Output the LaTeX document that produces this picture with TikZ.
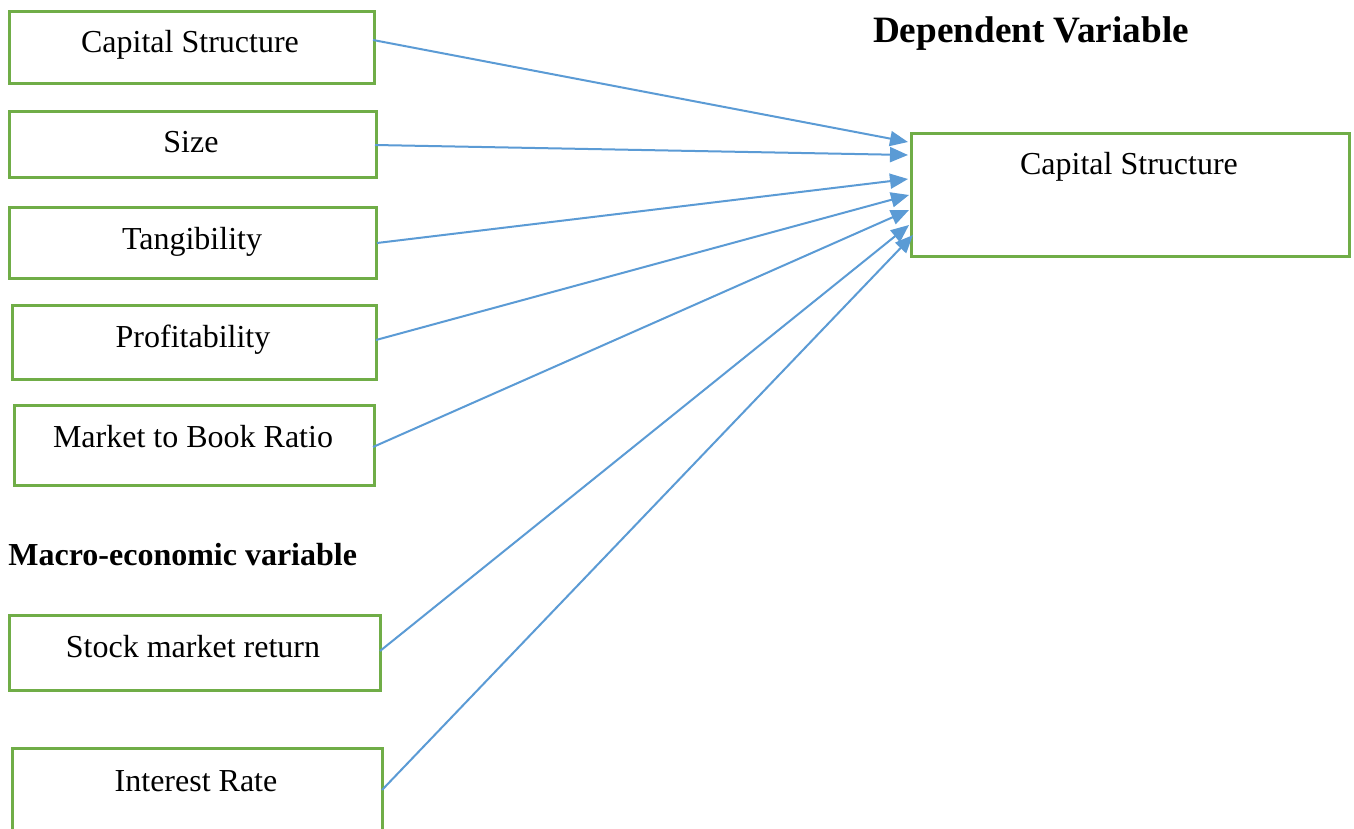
\documentclass[tikz,border=0pt]{standalone}
\usepackage{fontspec}
\setmainfont{Liberation Serif}
\usetikzlibrary{arrows.meta}
\definecolor{boxgreen}{HTML}{70AD47}
\definecolor{arrblue}{HTML}{5B9BD5}
\tikzset{
  varbox/.style={draw=boxgreen, line width=1.3pt, rectangle, inner sep=0pt, anchor=north west},
  lbl/.style={font=\fontsize{16}{19}\selectfont, anchor=base, inner sep=0pt},
  heading/.style={font=\fontsize{16}{19}\selectfont\bfseries, anchor=base, inner sep=0pt},
  link/.style={draw=arrblue, line width=1pt, -{Triangle[length=9pt,width=7.5pt]}}
}
\begin{document}
\begin{tikzpicture}[x=0.5pt,y=-0.5pt]
\useasboundingbox (0,0) rectangle (1354,829);
\fill[white] (0,0) rectangle (1354,829);
\begin{scope}
\clip (0,0) rectangle (1354,829);
% left boxes
\node[varbox, minimum width=182.5pt, minimum height=36pt] (b1) at (8,10) {};
\node[varbox, minimum width=183.5pt, minimum height=33pt] (b2) at (8,110) {};
\node[varbox, minimum width=183.5pt, minimum height=35.5pt] (b3) at (8,206) {};
\node[varbox, minimum width=182pt, minimum height=37pt] (b4) at (11,304) {};
\node[varbox, minimum width=180pt, minimum height=40pt] (b5) at (13,404) {};
\node[varbox, minimum width=185.5pt, minimum height=37.5pt] (b6) at (8,614) {};
\node[varbox, minimum width=185pt, minimum height=50pt] (b7) at (11,747) {};
% right box
\node[varbox, minimum width=219pt, minimum height=61.5pt] (dv) at (910,132) {};
\end{scope}
% texts
\node[lbl] (t1) at (190,53) {Capital Structure};
\node[lbl] (t2) at (191,153) {Size};
\node[lbl] (t3) at (192,249) {Tangibility};
\node[lbl] (t4) at (193,347) {Profitability};
\node[lbl] (t5) at (193,447) {Market to Book Ratio};
\node[lbl] (t6) at (193,657) {Stock market return};
\node[lbl] (t7) at (196,791) {Interest Rate};
\node[lbl] (tdv) at (1129,175) {Capital Structure};
\node[heading, font=\fontsize{18.6}{22}\selectfont\bfseries] (h1) at (1031,43) {Dependent Variable};
\node[heading, anchor=base west] (h2) at (8,565) {Macro-economic variable};
% connector endpoints
\coordinate (s1) at (373,40);
\coordinate (s2) at (375,145);
\coordinate (s3) at (377,243);
\coordinate (s4) at (376,340);
\coordinate (s5) at (373,447);
\coordinate (s6) at (380,651);
\coordinate (s7) at (382,790);
\coordinate (e1) at (908,142);
\coordinate (e2) at (908,155);
\coordinate (e3) at (908,179);
\coordinate (e4) at (909,195);
\coordinate (e5) at (909,210);
\coordinate (e6) at (909,225);
\coordinate (e7) at (913,235);
\draw[link] (s1) -- (e1);
\draw[link] (s2) -- (e2);
\draw[link] (s3) -- (e3);
\draw[link] (s4) -- (e4);
\draw[link] (s5) -- (e5);
\draw[link] (s6) -- (e6);
\draw[link] (s7) -- (e7);
\end{tikzpicture}
\end{document}
